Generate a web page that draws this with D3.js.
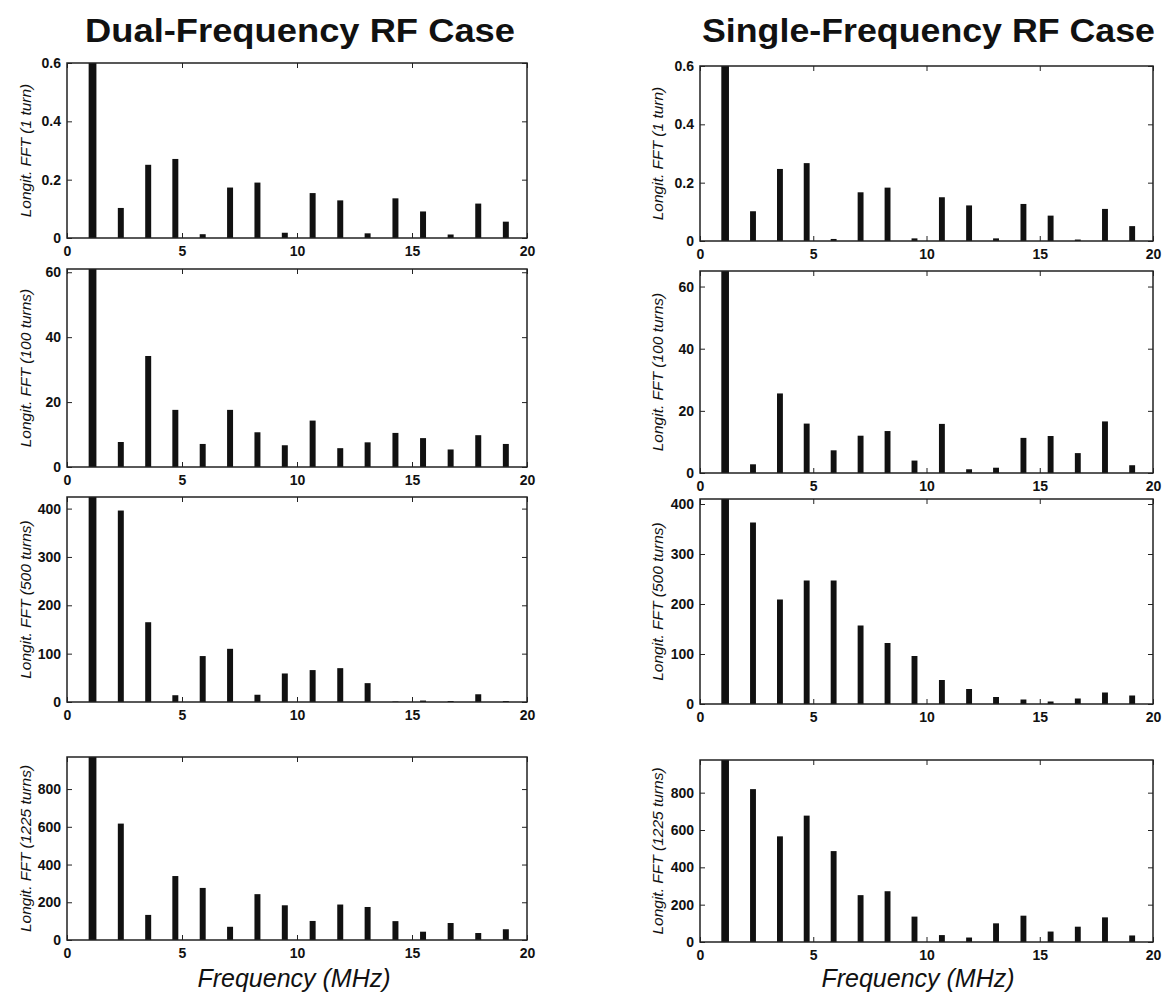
<!DOCTYPE html>
<html><head><meta charset="utf-8">
<script src="https://cdn.jsdelivr.net/npm/d3@7"></script>
<style>
body{margin:0;background:#fff;}
svg text{font-family:"Liberation Sans",Arial,sans-serif;fill:#111;}
</style></head>
<body><svg id="c" width="1175" height="1004"></svg>
<script>
// harmonic frequencies (MHz)
const freqs = [1.11, 2.34, 3.53, 4.71, 5.9, 7.09, 8.28, 9.47, 10.68, 11.88, 13.07, 14.28, 15.48, 16.68, 17.88, 19.08];
const columnTitles = ["Dual-Frequency RF Case", "Single-Frequency RF Case"];
const rowLabels = ["Longit. FFT (1 turn)", "Longit. FFT (100 turns)", "Longit. FFT (500 turns)", "Longit. FFT (1225 turns)"];
const xTicks = [0, 5, 10, 15, 20];
const yTicksRows = [[0, 0.2, 0.4, 0.6], [0, 20, 40, 60], [0, 100, 200, 300, 400], [0, 200, 400, 600, 800]];
const xLabel = "Frequency (MHz)";

const dual1 = [0.60, 0.103, 0.251, 0.271, 0.013, 0.173, 0.19, 0.018, 0.154, 0.129, 0.016, 0.136, 0.091, 0.012, 0.118, 0.056];
const single1 = [0.60, 0.102, 0.247, 0.267, 0.007, 0.167, 0.183, 0.009, 0.15, 0.122, 0.009, 0.127, 0.087, 0.005, 0.11, 0.051];
const dual100 = [61, 7.7, 34.2, 17.6, 7.1, 17.6, 10.7, 6.7, 14.3, 5.8, 7.6, 10.5, 8.9, 5.4, 9.8, 7.1];
const single100 = [65, 2.8, 25.6, 15.9, 7.3, 12, 13.5, 4, 15.8, 1.2, 1.7, 11.3, 11.9, 6.4, 16.6, 2.5];
const dual500 = [424, 396, 165, 14, 95, 110, 15, 59, 66, 70, 39, 1, 3, 2, 16, 2];
const single500 = [410, 363, 209, 247, 247, 157, 122, 96, 48, 30, 14, 9, 5, 11, 23, 17];
const dual1225 = [970, 617, 133, 339, 276, 70, 243, 184, 101, 188, 175, 100, 44, 90, 37, 57];
const single1225 = [975, 819, 566, 677, 487, 251, 272, 136, 37, 24, 100, 141, 56, 82, 132, 35];

const series = [[dual1, single1], [dual100, single100], [dual500, single500], [dual1225, single1225]];

const svg = d3.select("#c");
const colBoxes = [{x0: 67, x1: 527}, {x0: 700, x1: 1153}];
const rowBoxes = [
  [{y0: 63, y1: 238}, {y0: 66, y1: 241}],
  [{y0: 269, y1: 467}, {y0: 271, y1: 473}],
  [{y0: 497, y1: 702}, {y0: 499, y1: 704}],
  [{y0: 757, y1: 940}, {y0: 760, y1: 942}]
];
const titles = [{x: 85, w: 430}, {x: 702, w: 453}];
const yLabelX = [26, 658];
const xLabelX = [294, 918];

columnTitles.forEach((t, c) => {
  svg.append("text").attr("x", titles[c].x).attr("y", 42)
    .attr("textLength", titles[c].w).attr("lengthAdjust", "spacingAndGlyphs")
    .style("font-size", "33px").style("font-weight", "bold").text(t);
});

series.forEach((pair, r) => {
  pair.forEach((vals, c) => {
    const bx = colBoxes[c], by = rowBoxes[r][c];
    const x = d3.scaleLinear().domain([0, 20]).range([bx.x0, bx.x1]);
    const y = d3.scaleLinear().domain([0, d3.max(vals)]).range([by.y1, by.y0]);
    const g = svg.append("g");
    const clipId = `clip${r}${c}`;
    g.append("clipPath").attr("id", clipId).append("rect")
      .attr("x", bx.x0).attr("y", by.y0).attr("width", bx.x1 - bx.x0).attr("height", by.y1 - by.y0);
    // bars
    const bw = (x(0.26) - x(0));
    g.append("g").attr("clip-path", `url(#${clipId})`).selectAll("rect").data(vals).join("rect")
      .attr("x", (d, i) => x(freqs[i]) - (i === 0 ? bw * 1.3 : bw) / 2)
      .attr("width", (d, i) => i === 0 ? bw * 1.3 : bw)
      .attr("y", d => y(d)).attr("height", d => y(0) - y(d))
      .attr("fill", "#111");
    // box
    g.append("rect").attr("x", bx.x0).attr("y", by.y0).attr("width", bx.x1 - bx.x0).attr("height", by.y1 - by.y0)
      .attr("fill", "none").attr("stroke", "#222").attr("stroke-width", 1.5);
    // axes
    const yTicks = yTicksRows[r];
    const fmt = r === 0 ? (d => d === 0 ? "0" : d3.format(".1f")(d)) : d3.format("d");
    const xa = g.append("g").attr("transform", `translate(0,${by.y1})`)
      .call(d3.axisBottom(x).tickValues(xTicks).tickSize(-5).tickPadding(8));
    const xt = g.append("g").attr("transform", `translate(0,${by.y0})`)
      .call(d3.axisTop(x).tickValues(xTicks).tickSize(-5).tickFormat(""));
    const ya = g.append("g").attr("transform", `translate(${bx.x0},0)`)
      .call(d3.axisLeft(y).tickValues(yTicks).tickSize(-5).tickPadding(6).tickFormat(fmt));
    const yr = g.append("g").attr("transform", `translate(${bx.x1},0)`)
      .call(d3.axisRight(y).tickValues(yTicks).tickSize(-5).tickFormat(""));
    [xa, xt, ya, yr].forEach(a => {
      a.select(".domain").remove();
      a.selectAll("line").attr("stroke", "#222");
      a.selectAll("text").style("font-size", "14px").style("font-weight", "bold").attr("fill", "#111");
    });
    // y label
    g.append("text").attr("transform", `translate(${yLabelX[c]},${(by.y0 + by.y1) / 2}) rotate(-90)`)
      .attr("text-anchor", "middle").attr("dy", "0.35em").style("font-size", "15.5px").style("font-style", "italic")
      .text(rowLabels[r]);
    if (r === 3) {
      g.append("text").attr("x", xLabelX[c]).attr("y", 987).attr("text-anchor", "middle")
        .style("font-size", "25px").style("font-style", "italic").text(xLabel);
    }
  });
});
</script></body></html>
